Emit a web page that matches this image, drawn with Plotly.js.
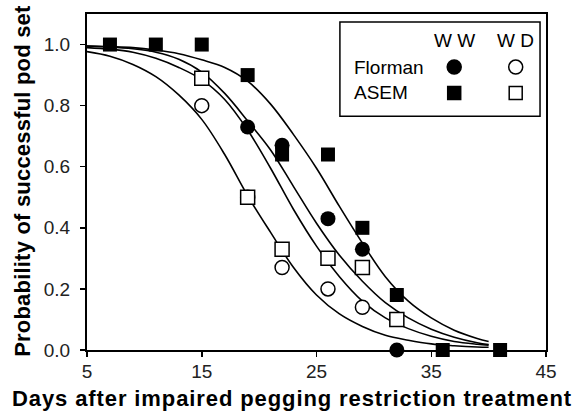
<!DOCTYPE html>
<html>
<head>
<meta charset="utf-8">
<script src="https://cdn.plot.ly/plotly-3.0.1.min.js"></script>
<style>
html,body{margin:0;padding:0;background:#fff;}
#chart{width:575px;height:416px;}
#chart g.annotation[data-index="4"] text{letter-spacing:0.9px;}
#chart g.annotation[data-index="5"] text{letter-spacing:0.2px;}
</style>
</head>
<body>
<div id="chart"></div>
<script>
// ---- data ----
const curveDays   = [5, 7, 9, 11, 13, 15, 17, 19, 21, 23, 25, 27, 29, 31, 33, 35, 37, 39, 40];
const asemWWFit    = [0.995, 0.993, 0.99, 0.982, 0.97, 0.95, 0.925, 0.88, 0.805, 0.705, 0.595, 0.47, 0.35, 0.24, 0.16, 0.105, 0.065, 0.038, 0.028];
const flormanWWFit = [0.995, 0.992, 0.986, 0.975, 0.952, 0.91, 0.84, 0.75, 0.655, 0.535, 0.415, 0.31, 0.225, 0.155, 0.105, 0.068, 0.042, 0.024, 0.018];
const asemWDFit    = [0.99, 0.985, 0.975, 0.955, 0.925, 0.885, 0.82, 0.72, 0.595, 0.46, 0.34, 0.24, 0.16, 0.105, 0.07, 0.045, 0.028, 0.019, 0.016];
const flormanWDFit = [0.977, 0.962, 0.935, 0.895, 0.835, 0.755, 0.64, 0.505, 0.385, 0.27, 0.18, 0.118, 0.077, 0.048, 0.032, 0.02, 0.014, 0.01, 0.009];

const asemWWDays    = [7, 11, 15, 19, 22, 26, 29, 32, 36, 41];
const asemWWProb    = [1.0, 1.0, 1.0, 0.90, 0.64, 0.64, 0.40, 0.18, 0.0, 0.0];
const flormanWWDays = [19, 22, 26, 29, 32];
const flormanWWProb = [0.73, 0.67, 0.43, 0.33, 0.0];
const asemWDDays    = [15, 19, 22, 26, 29, 32];
const asemWDProb    = [0.89, 0.50, 0.33, 0.30, 0.27, 0.10];
const flormanWDDays = [15, 19, 22, 26, 29];
const flormanWDProb = [0.80, 0.50, 0.27, 0.20, 0.14];

const xTicks = [5, 15, 25, 35, 45];
const yTicks = [0, 0.2, 0.4, 0.6, 0.8, 1.0];
const yTickText = ['0.0', '0.2', '0.4', '0.6', '0.8', '1.0'];

const xTitle = 'Days after impaired pegging restriction treatment';
const yTitle = 'Probability of successful pod set';

// ---- traces ----
const lineStyle = {color: '#000', width: 1.6, shape: 'spline', smoothing: 1};
function fit(y) { return {x: curveDays, y: y, mode: 'lines', line: lineStyle, showlegend: false, hoverinfo: 'skip'}; }
function pts(x, y, symbol, size, open) {
  return {x: x, y: y, mode: 'markers', showlegend: false, cliponaxis: false,
    marker: {symbol: symbol, size: size, color: open ? '#fff' : '#000',
      line: {color: '#000', width: open ? 1.5 : 0}}};
}
const data = [
  fit(asemWWFit), fit(flormanWWFit), fit(asemWDFit), fit(flormanWDFit),
  pts(flormanWDDays, flormanWDProb, 'circle', 14, true),
  pts(asemWDDays, asemWDProb, 'square', 14, true),
  pts(flormanWWDays, flormanWWProb, 'circle', 15, false),
  pts(asemWWDays, asemWWProb, 'square', 14, false)
];

// ---- legend drawn as a boxed table ----
const fnt = 'Liberation Sans, Arial, Helvetica, sans-serif';
const lgX = {ww: 0.8, wd: 0.934};
const lgY = {head: 0.922, flor: 0.842, asem: 0.765};
function pxShape(type, x, y, r, filled) {
  return {type: type, xref: 'paper', yref: 'paper', xsizemode: 'pixel', ysizemode: 'pixel',
    xanchor: x, yanchor: y, x0: -r, x1: r, y0: -r, y1: r,
    line: {color: '#000', width: 1.5}, fillcolor: filled ? '#000' : '#fff'};
}
const shapes = [
  {type: 'rect', xref: 'paper', yref: 'paper', x0: 0.551, x1: 0.987, y0: 0.696, y1: 0.976,
   line: {color: '#000', width: 1.5}, fillcolor: 'rgba(0,0,0,0)'},
  pxShape('circle', lgX.ww, lgY.flor, 7, true),
  pxShape('circle', lgX.wd, lgY.flor, 7, false),
  pxShape('rect', lgX.ww, lgY.asem, 6.5, true),
  pxShape('rect', lgX.wd, lgY.asem, 6.5, false)
];
const annFont = {family: fnt, size: 19, color: '#000'};
const titleFont = {family: fnt, size: 22, weight: 'bold', color: '#000'};
const annotations = [
  {text: 'W W', x: lgX.ww, y: lgY.head, xref: 'paper', yref: 'paper', showarrow: false, font: annFont, xanchor: 'center', yanchor: 'middle'},
  {text: 'W D', x: lgX.wd, y: lgY.head, xref: 'paper', yref: 'paper', showarrow: false, font: annFont, xanchor: 'center', yanchor: 'middle'},
  {text: 'Florman', x: 0.577, y: lgY.flor, xref: 'paper', yref: 'paper', showarrow: false, font: annFont, xanchor: 'left', yanchor: 'middle'},
  {text: 'ASEM', x: 0.577, y: lgY.asem, xref: 'paper', yref: 'paper', showarrow: false, font: annFont, xanchor: 'left', yanchor: 'middle'},
  // axis titles (placed to match the reference, which centres the x title on the figure)
  {text: xTitle, x: 0.447, y: -0.143, xref: 'paper', yref: 'paper', showarrow: false, font: titleFont, xanchor: 'center', yanchor: 'middle'},
  {text: yTitle, x: -0.1416, y: 0.5015, xref: 'paper', yref: 'paper', showarrow: false, font: titleFont, textangle: -90, xanchor: 'center', yanchor: 'middle'}
];

const axisBase = {showline: true, linecolor: '#000', linewidth: 2, mirror: true,
  ticks: 'outside', ticklen: 5, tickwidth: 1.5, tickcolor: '#000',
  showgrid: false, zeroline: false, tickfont: {family: fnt, size: 19, color: '#222'}};

const layout = {
  width: 575, height: 416,
  margin: {l: 87, r: 29, t: 14, b: 66, pad: 0},
  paper_bgcolor: '#fff', plot_bgcolor: '#fff',
  font: {family: fnt, color: '#000'},
  showlegend: false,
  xaxis: Object.assign({}, axisBase, {range: [5, 45], tickmode: 'array', tickvals: xTicks,
    ticklabelstandoff: -2}),
  yaxis: Object.assign({}, axisBase, {range: [0, 1.1], tickmode: 'array', tickvals: yTicks, ticktext: yTickText,
    ticklabelstandoff: 6}),
  shapes: shapes,
  annotations: annotations
};

Plotly.newPlot('chart', data, layout, {displayModeBar: false, staticPlot: true});
</script>
</body>
</html>
